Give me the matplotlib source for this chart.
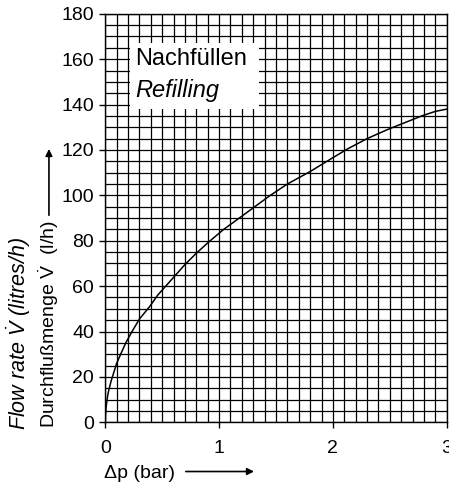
import matplotlib
matplotlib.use('Agg')
import matplotlib.pyplot as plt
from matplotlib.patches import Rectangle, FancyArrowPatch
import numpy as np

plt.rcParams['font.family'] = ['Liberation Sans', 'DejaVu Sans']
plt.rcParams['mathtext.fontset'] = 'custom'
plt.rcParams['mathtext.rm'] = 'Liberation Sans'
plt.rcParams['mathtext.it'] = 'Liberation Sans:italic'

# pressure difference (bar) and flow rate (l/h)
dp = [0, 0.002, 0.008, 0.02, 0.03, 0.05, 0.1, 0.135, 0.18, 0.235, 0.3,
      0.39, 0.46, 0.54, 0.62, 0.7, 0.8, 0.91, 1.04, 1.15, 1.3, 1.45,
      1.6, 1.8, 1.98, 2.13, 2.3, 2.48, 2.63, 2.78, 2.9, 3.0]
flow = [0, 3, 7, 11.5, 14, 18, 26, 30, 35, 40, 45.5,
        51, 56, 60.5, 65, 69.5, 74.5, 79.5, 85, 89, 94.5, 100,
        105, 110.5, 116, 120.5, 125, 129, 132, 135, 137, 138]

x_ticks = [0, 1, 2, 3]
y_ticks = list(range(0, 181, 20))

fig = plt.figure(figsize=(4.49, 4.84), dpi=100)
ax = fig.add_axes([0.2345, 0.1275, 0.7605, 0.844])

ax.set_xlim(0, 3)
ax.set_ylim(0, 180)
ax.set_xticks(x_ticks)
ax.set_yticks(y_ticks)
ax.set_xticks(np.arange(0, 3.001, 0.1), minor=True)
ax.set_yticks(np.arange(0, 180.1, 5), minor=True)
ax.tick_params(which='major', length=4, width=1, labelsize=14, direction='out')
ax.tick_params(axis='x', which='major', pad=8.5)
ax.tick_params(axis='y', which='major', pad=4)
ax.tick_params(which='minor', length=0)

ax.set_axisbelow(True)
ax.grid(which='both', color='black', linewidth=0.9)
for s in ax.spines.values():
    s.set_linewidth(1)

# white box for the title
ax.add_patch(Rectangle((0.22, 138), 1.13, 29, facecolor='white',
                       edgecolor='none', zorder=2))
ax.text(0.262, 157.4, 'Nachfüllen', fontsize=17, va='baseline', zorder=3)
ax.text(0.262, 143.4, 'Refilling', fontsize=17, style='italic',
        va='baseline', zorder=3)

ax.plot(dp, flow, color='black', linewidth=1.1, zorder=3)

# axis labels
fig.text(0.042, 0.1116, r'Flow rate $\dot{V}$ (litres/h)', rotation=90,
         fontsize=15.5, style='italic', ha='center', va='bottom')
fig.text(0.109, 0.1157, r'Durchflußmenge $\dot{\mathrm{V}}$  (l/h)',
         rotation=90, fontsize=14, ha='center', va='bottom')
fig.text(0.232, 0.013, '\u0394p (bar)', fontsize=14, va='baseline')

fig.patches.append(FancyArrowPatch(
    (0.109, 0.5496), (0.109, 0.698), transform=fig.transFigure,
    arrowstyle='-|>', mutation_scale=10, linewidth=1.2, color='black'))
fig.patches.append(FancyArrowPatch(
    (0.4076, 0.0258), (0.572, 0.0258), transform=fig.transFigure,
    arrowstyle='-|>', mutation_scale=10, linewidth=1.2, color='black'))

fig.savefig('out.png', dpi=100)
